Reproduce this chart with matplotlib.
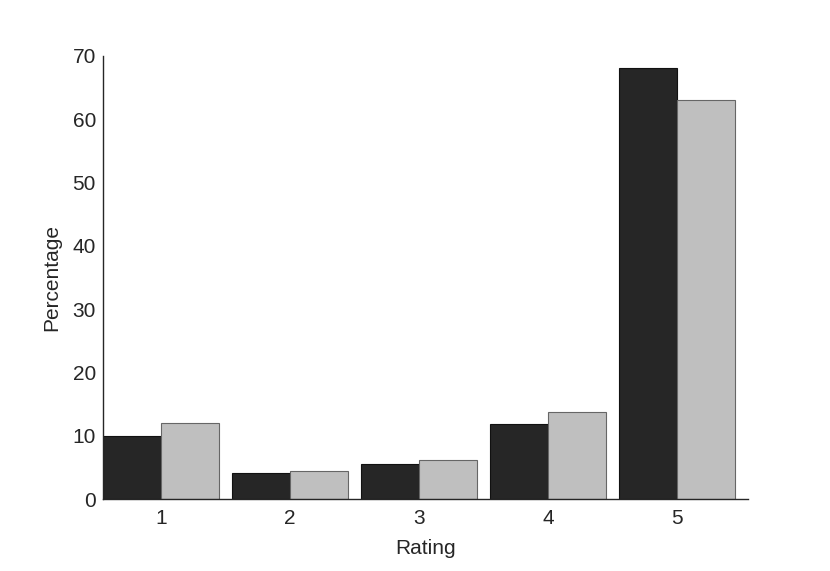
import numpy as np
import matplotlib
matplotlib.use("Agg")
import matplotlib.pyplot as plt

plt.rcParams['font.family'] = ['Liberation Sans', 'DejaVu Sans']

ratings = [1, 2, 3, 4, 5]
group_a = [10.0, 4.1, 5.5, 11.9, 68.1]
group_b = [12.0, 4.4, 6.2, 13.8, 63.0]

x = np.array(ratings)
width = 0.45

fig = plt.figure(figsize=(8.3, 5.71), dpi=100)
ax = fig.add_axes([0.124, 0.126, 0.777, 0.776])

ax.bar(x - width / 2, group_a, width, color="#262626", edgecolor="#111111", linewidth=0.8)
ax.bar(x + width / 2, group_b, width, color="#bfbfbf", edgecolor="#666666", linewidth=0.8)

ax.set_xlim(0.55, 5.55)
ax.set_ylim(0, 70)
ax.set_xticks(ratings)
ax.set_yticks(np.arange(0, 71, 10))
ax.tick_params(length=0, labelsize=15, colors="#262626")
ax.tick_params(axis="y", pad=5)
ax.tick_params(axis="x", pad=7)
for s in ["top", "right"]:
    ax.spines[s].set_visible(False)
for s in ["left", "bottom"]:
    ax.spines[s].set_color("#262626")
    ax.spines[s].set_linewidth(1.0)

ax.set_xlabel("Rating", fontsize=15, color="#262626", labelpad=8)
ax.set_ylabel("Percentage", fontsize=15, color="#262626", labelpad=8)

fig.savefig("out.png", dpi=100)
